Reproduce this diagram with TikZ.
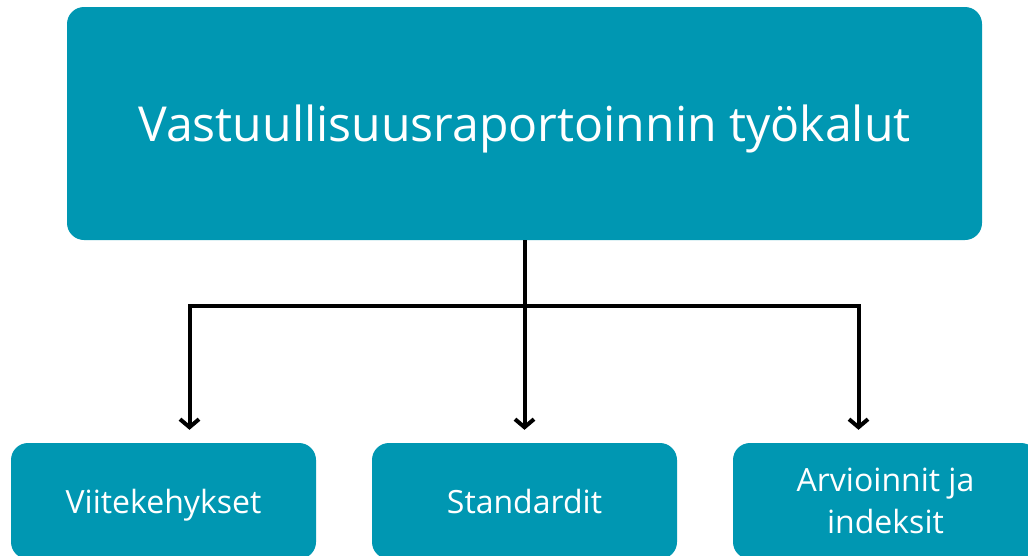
\documentclass[tikz,border=0pt]{standalone}
\usepackage{fontspec}
\setmainfont{Open Sans}
\usetikzlibrary{arrows.meta}
\definecolor{teal1}{HTML}{0097B2}
\begin{document}
\begin{tikzpicture}[x=1pt, y=-1pt,
  box/.style={fill=teal1, text=white, rounded corners=17pt, inner sep=0pt, align=center, text depth=0pt},
  conn/.style={line width=4pt, -{Straight Barb[length=8pt, width=19pt]}, shorten >=13pt}]
\useasboundingbox (0,0) rectangle (1028,555);
\clip (0,0) rectangle (1028,555);
\node[box, minimum width=915pt, minimum height=233pt, font=\fontsize{48.2}{58}\selectfont] (top) at (524.5,123.5) {Vastuullisuusraportoinnin työkalut};
\node[box, minimum width=305pt, minimum height=116pt, font=\fontsize{32}{42}\selectfont] (vk) at (163.5,501) {Viitekehykset};
\node[box, minimum width=305pt, minimum height=116pt, font=\fontsize{32}{42}\selectfont] (st) at (524.5,501) {Standardit};
\node[box, minimum width=305pt, minimum height=116pt, font=\fontsize{32}{42}\selectfont] (ai) at (885.5,501) {Arvioinnit ja\\indeksit};
\coordinate (J) at (524.5,306);
\draw [line width=4pt] (top.south) -- (J);
\draw [conn] (J) -| ([xshift=26pt]vk.north);
\draw [conn] (J) -- (st.north);
\draw [conn] (J) -| ([xshift=-27pt]ai.north);
\end{tikzpicture}
\end{document}
